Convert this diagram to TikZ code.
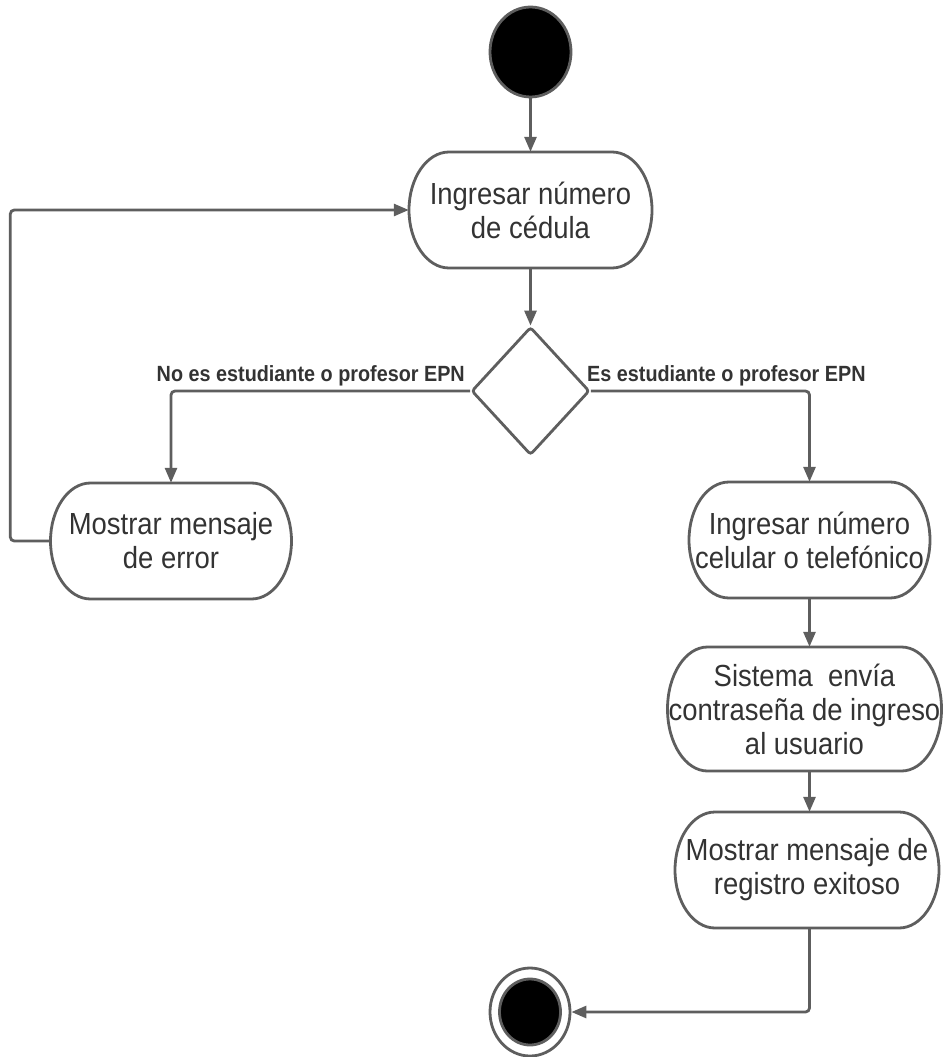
\documentclass[tikz,border=0pt]{standalone}
\usepackage{fontspec}
\setmainfont[FakeStretch=0.9]{Liberation Sans}
\usetikzlibrary{shapes.geometric,arrows.meta}
\definecolor{linegray}{HTML}{5E5E5E}
\definecolor{textgray}{HTML}{333333}

\tikzset{
  flow/.style={draw=linegray, line width=2.8pt, rounded corners=4pt,
    -{Triangle[length=15pt,width=12pt]}},
  shapeline/.style={draw=linegray, line width=2.8pt, fill=white},
  acttext/.style={text=textgray, font=\fontsize{30.5}{34}\selectfont,
    align=center, inner sep=0pt},
  guard/.style={text=textgray, font=\bfseries\fontsize{22}{26}\selectfont,
    inner sep=0pt},
  dot/.style={ellipse, draw=linegray, line width=2.8pt, fill=black, inner sep=0pt},
}

% activity: name, centre x, centre y, width, height, text
\newcommand\activity[6]{%
  \draw[shapeline] ({#2-#4/2+40},{#3+#5/2}) -- ({#2+#4/2-40},{#3+#5/2})
    arc[start angle=90, end angle=-90, x radius=40pt, y radius={#5*0.5pt}]
    -- ({#2-#4/2+40},{#3-#5/2})
    arc[start angle=270, end angle=90, x radius=40pt, y radius={#5*0.5pt}]
    -- cycle;
  \node[acttext, minimum width=#4pt, minimum height=#5pt] (#1) at (#2,#3) {#6};
}

\begin{document}
\begin{tikzpicture}[x=1pt,y=1pt]
\useasboundingbox (0,0) rectangle (942,-1057);

% initial node
\node[dot, minimum width=81pt, minimum height=90pt] (start) at (530.5,-52) {};

% activities
\activity{box1}{530.5}{-210}{243}{116}{Ingresar número\\de cédula}
\activity{err}{171}{-541}{241}{116}{Mostrar mensaje\\de error}
\activity{cel}{809.5}{-540}{241}{116}{Ingresar número\\celular o telefónico}
\activity{sis}{804.5}{-709}{274}{124}{Sistema\ \ envía\\contraseña de ingreso\\al usuario}
\activity{exito}{807}{-870}{264}{116}{Mostrar mensaje de\\registro exitoso}

% decision
\node[diamond, shapeline, rounded corners=3pt, minimum width=118pt,
  minimum height=128pt, inner sep=0pt] (dec) at (530.5,-391) {};

% final node
\node[ellipse, shapeline, minimum width=80pt, minimum height=88pt, inner sep=0pt]
  (stop) at (530,-1012) {};
\node[dot, minimum width=61pt, minimum height=66pt] (stopdot) at (stop) {};

% guards
\node[guard, anchor=base east] (gno) at (465,-381) {No es estudiante o profesor EPN};
\node[guard, anchor=base west] (gyes) at (587,-381) {Es estudiante o profesor EPN};

% control flow
\draw[flow] (start.south) -- (box1.north);
\draw[flow] (box1.south) -- (dec.north);
\draw[flow] (dec.west) -| (err.north);
\draw[flow] (dec.east) -| (cel.north);
\draw[flow] (err.west) -- ++(-40,0) |- (box1.west);
\draw[flow] (cel.south) -- (cel.south |- sis.north);
\draw[flow] (cel.south |- sis.south) -- (cel.south |- exito.north);
\draw[flow] (cel.south |- exito.south) |- (stop.east);
\end{tikzpicture}
\end{document}
